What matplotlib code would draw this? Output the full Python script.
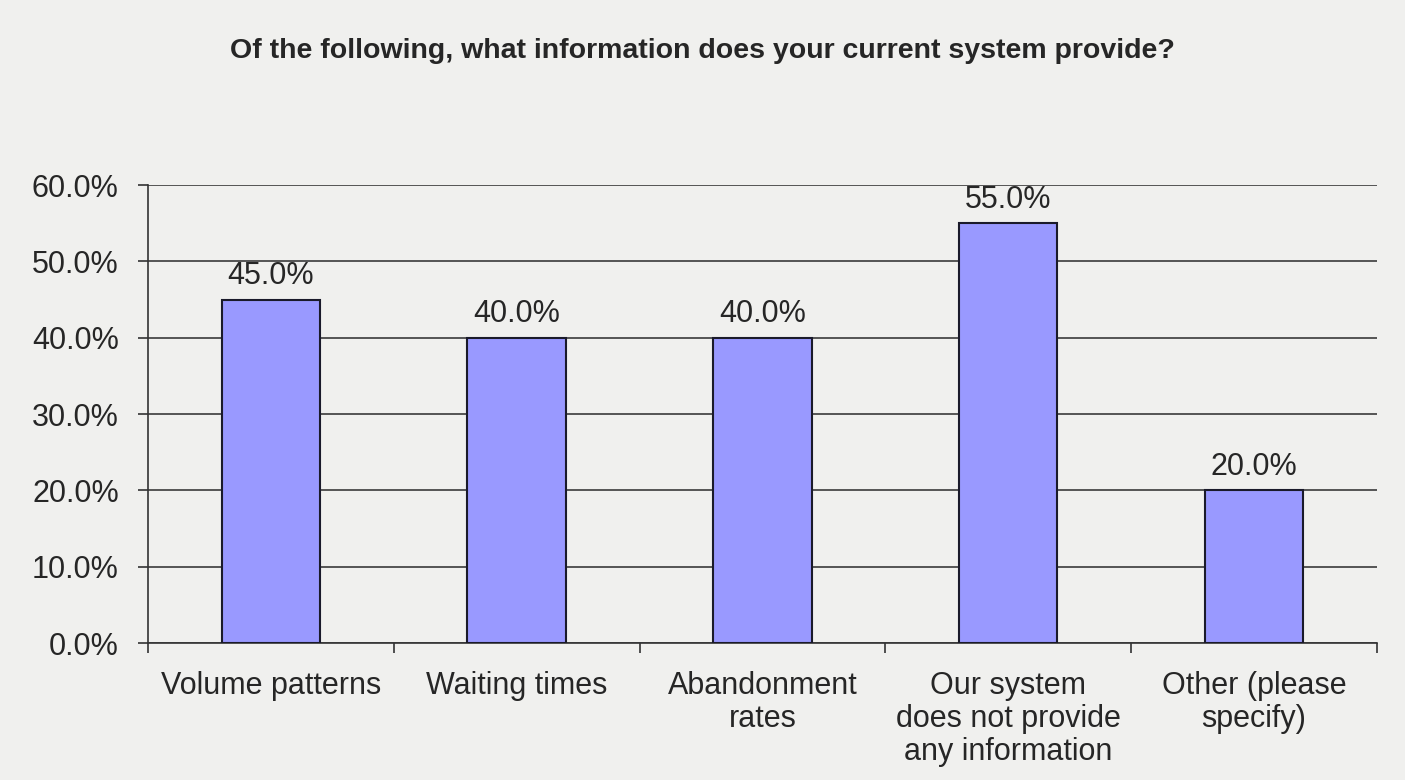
import numpy as np
import matplotlib.pyplot as plt
from matplotlib.ticker import FixedLocator, PercentFormatter

plt.rcParams['font.family'] = ['Liberation Sans', 'DejaVu Sans']

categories = ["Volume patterns", "Waiting times", "Abandonment\nrates",
              "Our system\ndoes not provide\nany information", "Other (please\nspecify)"]
values = [45.0, 40.0, 40.0, 55.0, 20.0]
y_ticks = [0, 10, 20, 30, 40, 50, 60]

bg = "#f0f0ee"
txt = "#262626"
fig = plt.figure(figsize=(14.05, 7.8), dpi=100, facecolor=bg)
ax = fig.add_axes([0.1053, 0.1756, 0.8747, 0.5872], facecolor=bg)

x = np.arange(len(categories))
ax.bar(x, values, width=0.4, color="#9999ff", edgecolor="#1a1a2a", linewidth=1.5, zorder=3)

for xi, v in zip(x, values):
    ax.text(xi, v + 2.0, f"{v:.1f}%", ha="center", va="baseline", fontsize=22, color=txt)

ax.set_xlim(-0.5, len(categories) - 0.5)
ax.set_ylim(0, 60)
ax.yaxis.set_major_locator(FixedLocator(y_ticks))
ax.yaxis.set_major_formatter(PercentFormatter(decimals=1))
ax.grid(axis="y", color="#3a3a3a", linewidth=1.2, zorder=1)

# category labels centred, tick marks between categories
ax.set_xticks(x)
ax.set_xticklabels(categories, fontsize=22, color=txt, linespacing=1.14)
ax.tick_params(axis="x", which="major", length=0, pad=20)
ax.set_xticks(np.arange(-0.5, len(categories)), minor=True)
ax.tick_params(axis="x", which="minor", length=7, width=1.2, color="#333333", direction="out")
ax.tick_params(axis="y", length=7, width=1.2, color="#333333", labelsize=22, labelcolor=txt, pad=14)

for s in ["top", "right"]:
    ax.spines[s].set_visible(False)
for s in ["left", "bottom"]:
    ax.spines[s].set_color("#333333")
    ax.spines[s].set_linewidth(1.2)

fig.text(0.4996, 0.935, "Of the following, what information does your current system provide?",
         ha="center", va="center", fontsize=20.5, fontweight="bold", color=txt)

fig.savefig("out.png", dpi=100, facecolor=bg)
